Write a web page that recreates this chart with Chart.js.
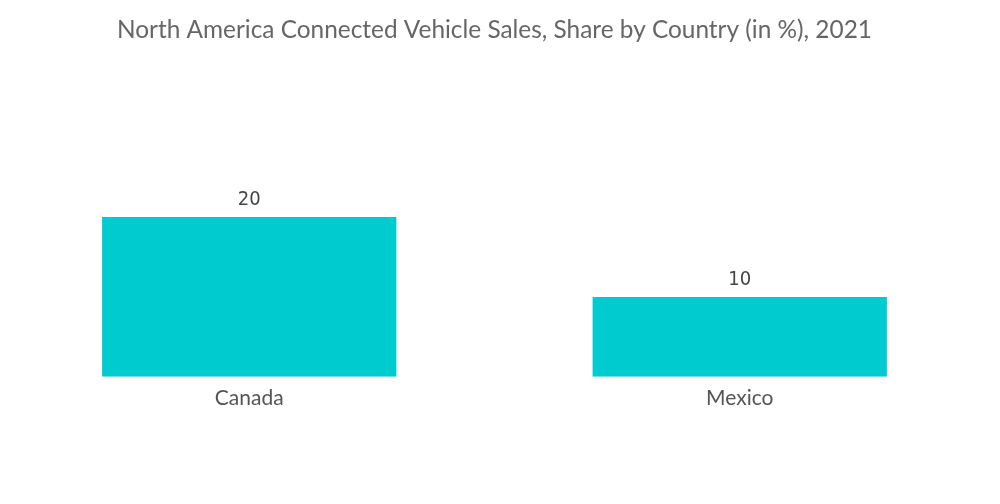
<!DOCTYPE html>
<html lang="en">
<head>
    <meta charset="UTF-8">
    <title>North America Connected Vehicle Sales</title>
    <script src="https://cdn.jsdelivr.net/npm/chart.js"></script>
    <style>
        body {
            margin: 0;
            padding: 0;
            background-color: #fff;
        }
        #wrap {
            width: 1000px;
            height: 504px;
        }
    </style>
</head>
<body>
    <div id="wrap"><canvas id="barChart"></canvas></div>

    <script>
        const countries = ['Canada', 'Mexico'];
        const shares = [20, 10];

        // value labels above each bar
        const valueLabels = {
            id: 'valueLabels',
            afterDatasetsDraw(chart) {
                const ctx = chart.ctx;
                const meta = chart.getDatasetMeta(0);
                ctx.save();
                ctx.font = '20px "DejaVu Sans Condensed", "Roboto", sans-serif';
                ctx.fillStyle = '#444';
                ctx.textAlign = 'center';
                ctx.textBaseline = 'bottom';
                meta.data.forEach((bar, i) => {
                    ctx.fillText(shares[i], bar.x, bar.y - 7);
                });
                ctx.restore();
            }
        };

        const ctx = document.getElementById('barChart').getContext('2d');
        new Chart(ctx, {
            type: 'bar',
            data: {
                labels: countries,
                datasets: [{
                    data: shares,
                    backgroundColor: '#00CCD0',
                    borderWidth: 0,
                    barPercentage: 0.6,
                    categoryPercentage: 1.0
                }]
            },
            options: {
                responsive: true,
                maintainAspectRatio: false,
                animation: false,
                layout: {
                    padding: { left: 4, right: 15, top: 0, bottom: 84 }
                },
                scales: {
                    y: {
                        display: false,
                        min: 0,
                        max: 40
                    },
                    x: {
                        grid: { display: false, drawTicks: false },
                        border: { display: false },
                        ticks: {
                            color: '#555',
                            padding: 9,
                            font: { family: 'Lato', size: 21 }
                        }
                    }
                },
                plugins: {
                    legend: { display: false },
                    tooltip: { enabled: false },
                    title: {
                        display: true,
                        text: 'North America Connected Vehicle Sales, Share by Country (in %), 2021',
                        color: '#666',
                        font: { family: 'Lato', size: 24.4, weight: 'normal' },
                        padding: { top: 16, bottom: 12 }
                    }
                }
            },
            plugins: [valueLabels]
        });
    </script>
</body>
</html>
